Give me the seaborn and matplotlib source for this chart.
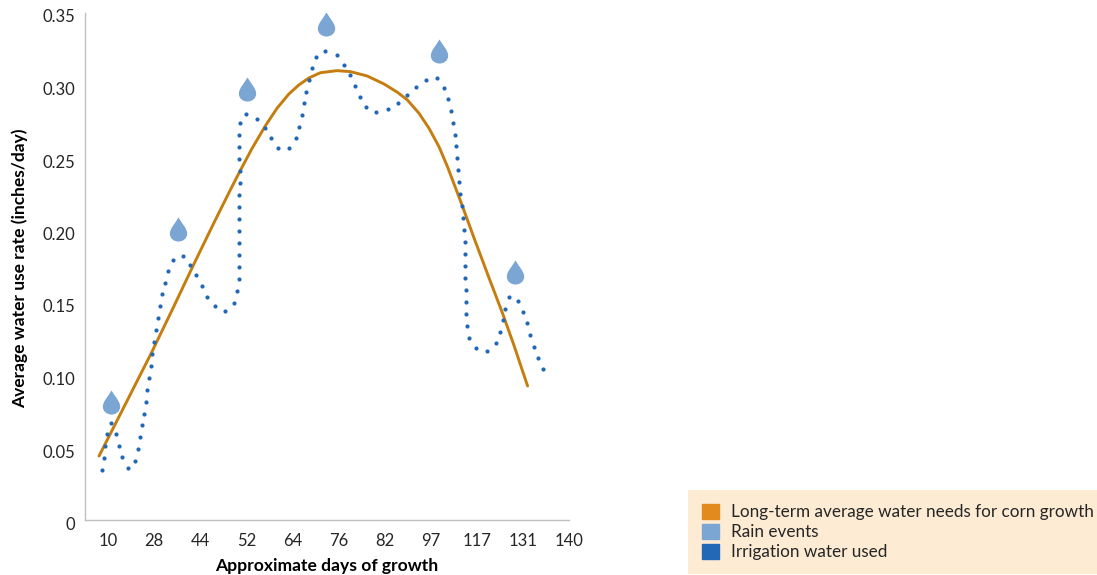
"""
Corn water use chart - average daily use rate against long-term crop needs
"""

import matplotlib
matplotlib.use('Agg')
import matplotlib.pyplot as plt
from matplotlib.patches import Patch
from matplotlib.path import Path
from matplotlib.transforms import ScaledTranslation
import seaborn as sns

# Axis labels
day_labels = ['10', '28', '44', '52', '64', '76', '82', '97', '117', '131', '140']
rate_ticks = [0, 0.05, 0.10, 0.15, 0.20, 0.25, 0.30, 0.35]
rate_labels = ['0', '0.05', '0.10', '0.15', '0.20', '0.25', '0.30', '0.35']

# Long-term needs curve, x is position on the category axis
needs_x = [-0.196, 0.37, 0.935, 1.4, 1.87, 2.29, 2.652, 2.855, 3.123, 3.406, 3.667,
           3.92, 4.138, 4.355, 4.609, 4.971, 5.261, 5.623, 5.986, 6.276, 6.493, 6.746,
           6.964, 7.18, 7.363, 7.652, 7.942, 8.268, 8.558, 8.811, 9.102]
needs_y = [0.0441, 0.0795, 0.1149, 0.1455, 0.1770, 0.2045, 0.2276, 0.2402, 0.2562, 0.2715, 0.2840,
           0.2937, 0.3000, 0.3048, 0.3085, 0.3099, 0.3092, 0.3062, 0.3007, 0.2950, 0.2897, 0.2805,
           0.2701, 0.2574, 0.2437, 0.2195, 0.1943, 0.1667, 0.1426, 0.1200, 0.0924]

# Irrigation water used, one entry per dot
irrigation_x = [-0.123, -0.094, -0.065, -0.014, 0.065, 0.167, 0.232, 0.304, 0.428, 0.587,
                0.652, 0.703, 0.746, 0.783, 0.819, 0.855, 0.891, 0.928, 0.964, 1.0,
                1.036, 1.08, 1.123, 1.174, 1.232, 1.304, 1.406, 1.616, 1.783, 1.913,
                2.029, 2.152, 2.312, 2.543, 2.732, 2.804, 2.833, 2.841, 2.848, 2.848,
                2.848, 2.848, 2.848, 2.848, 2.855, 2.855, 2.848, 2.841, 2.841, 2.855,
                3.0, 3.232, 3.399, 3.536, 3.681, 3.92, 4.072, 4.152, 4.217, 4.261,
                4.304, 4.355, 4.42, 4.514, 4.717, 4.957, 5.116, 5.246, 5.355, 5.464,
                5.602, 5.819, 6.065, 6.289, 6.493, 6.689, 6.898, 7.137, 7.298, 7.384,
                7.442, 7.485, 7.522, 7.55, 7.58, 7.602, 7.623, 7.645, 7.674, 7.696,
                7.725, 7.739, 7.746, 7.754, 7.754, 7.761, 7.768, 7.768, 7.783, 7.833,
                7.978, 8.225, 8.413, 8.5, 8.558, 8.609, 8.696, 8.899, 9.007, 9.087,
                9.159, 9.232, 9.319, 9.435]
irrigation_y = [0.0347, 0.0430, 0.0513, 0.0593, 0.0669, 0.0595, 0.0513, 0.0434, 0.0361, 0.0407,
                0.0490, 0.0570, 0.0653, 0.0733, 0.0816, 0.0899, 0.0981, 0.1062, 0.1145, 0.1228,
                0.1310, 0.1391, 0.1474, 0.1557, 0.1637, 0.1717, 0.1793, 0.1821, 0.1759, 0.1687,
                0.1614, 0.1540, 0.1474, 0.1443, 0.1497, 0.1577, 0.1660, 0.1743, 0.1825, 0.1908,
                0.1991, 0.2074, 0.2157, 0.2239, 0.2322, 0.2405, 0.2488, 0.2570, 0.2653, 0.2736,
                0.2798, 0.2766, 0.2703, 0.2632, 0.2563, 0.2566, 0.2632, 0.2710, 0.2791, 0.2874,
                0.2954, 0.3037, 0.3117, 0.3193, 0.3237, 0.3205, 0.3140, 0.3069, 0.2993, 0.2917,
                0.2848, 0.2812, 0.2834, 0.2878, 0.2931, 0.2986, 0.3037, 0.3046, 0.2981, 0.2903,
                0.2823, 0.2740, 0.2657, 0.2577, 0.2494, 0.2412, 0.2329, 0.2246, 0.2163, 0.2081,
                0.1998, 0.1915, 0.1832, 0.1750, 0.1667, 0.1586, 0.1501, 0.1419, 0.1336, 0.1255,
                0.1186, 0.1166, 0.1219, 0.1297, 0.1377, 0.1457, 0.1536, 0.1510, 0.1432, 0.1357,
                0.1276, 0.1195, 0.1117, 0.1043]

# Rain events, centre of each drop
rain_x = [0.059, 1.528, 3.015, 4.733, 7.180, 8.833]
rain_y = [0.0814, 0.2009, 0.2970, 0.3421, 0.3237, 0.1710]

legend_labels = ['Long-term average water needs for corn growth', 'Rain events', 'Irrigation water used']

ORANGE_LINE = '#C47D0E'
ORANGE = '#E28A1D'
LIGHT_BLUE = '#7BA5D3'
BLUE = '#2268B6'
GREY = '#BFBFBF'
TEXT = '#262626'

# Teardrop marker
DROP = Path(
    [(0, 1), (0.25, 0.55), (0.72, 0.1), (0.72, -0.35),
     (0.72, -0.75), (0.38, -1), (0, -1),
     (-0.38, -1), (-0.72, -0.75), (-0.72, -0.35),
     (-0.72, 0.1), (-0.25, 0.55), (0, 1)],
    [Path.MOVETO] + [Path.CURVE4] * 12,
)


def main():
    sns.set_theme(style='white')
    plt.rcParams['font.family'] = ['Lato', 'DejaVu Sans']

    fig = plt.figure(figsize=(10.97, 5.75), dpi=100)
    ax = fig.add_axes([85 / 1097, 55 / 575, 484 / 1097, 507.5 / 575])

    sns.lineplot(x=needs_x, y=needs_y, ax=ax, color=ORANGE_LINE, linewidth=2.1,
                 sort=False, estimator=None, zorder=3)
    sns.scatterplot(x=irrigation_x, y=irrigation_y, ax=ax, color=BLUE, s=9,
                    linewidth=0, zorder=4)
    sns.scatterplot(x=rain_x, y=rain_y, ax=ax, color=LIGHT_BLUE, marker=DROP, s=300,
                    linewidth=0, zorder=5)

    ax.set_xlim(-0.5, 10)
    ax.set_ylim(0, 0.35)
    ax.set_xticks(range(len(day_labels)))
    ax.set_xticklabels(day_labels, fontsize=12, color=TEXT)
    ax.set_yticks(rate_ticks)
    ax.set_yticklabels(rate_labels, fontsize=12, color=TEXT)
    ax.tick_params(axis='both', length=0)
    ax.tick_params(axis='x', pad=9.5)
    ax.tick_params(axis='y', pad=7)

    # y labels sit a little under their tick position
    shift = ScaledTranslation(0, -3.5 / 100, fig.dpi_scale_trans)
    for label in ax.get_yticklabels():
        label.set_transform(label.get_transform() + shift)

    # kept just inside the bottom edge so the descenders are not cut
    ax.set_xlabel('Approximate days of growth', fontsize=12.6, fontweight='bold', color='black', labelpad=6)
    ax.set_ylabel('Average water use rate (inches/day)', fontsize=12.5, fontweight='bold', color='black', labelpad=10.5)
    ax.yaxis.label.set_y(0.496)

    sns.despine(ax=ax)
    for side in ['left', 'bottom']:
        ax.spines[side].set_color(GREY)
        ax.spines[side].set_linewidth(1.0)

    handles = [Patch(color=c) for c in [ORANGE, LIGHT_BLUE, BLUE]]
    fig.legend(handles, legend_labels, loc='lower left',
               bbox_to_anchor=(688 / 1097, 1 / 575), borderaxespad=0,
               fontsize=12.35, frameon=True, fancybox=False, facecolor='#FDEBD3', edgecolor='none',
               framealpha=1, borderpad=0.8, handlelength=1.0, handleheight=1.0,
               handletextpad=0.7, labelspacing=0.2, labelcolor=TEXT)

    fig.savefig('out.png', dpi=100)
    plt.close(fig)


if __name__ == "__main__":
    main()
